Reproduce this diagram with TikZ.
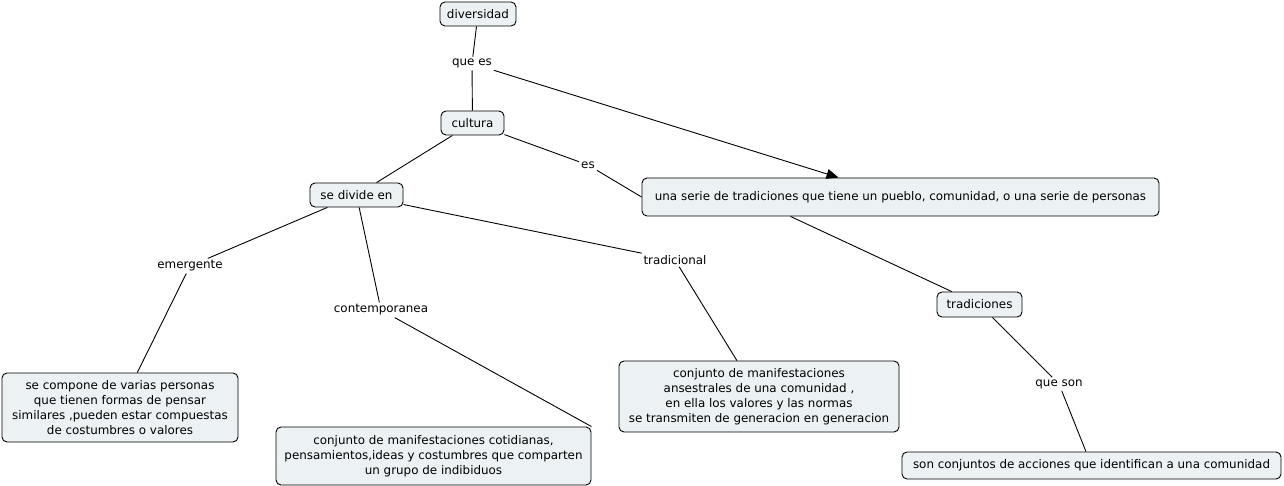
\documentclass[tikz,border=0pt]{standalone}
\usepackage{fontspec}
\setmainfont{DejaVu Sans}
\usetikzlibrary{arrows.meta}
\definecolor{boxfill}{HTML}{ECF2F4}
\tikzset{
  cbox/.style={draw=black, fill=boxfill, rounded corners=5pt, line width=0.9pt, align=center, inner sep=2pt, font=\fontsize{11.9}{15}\selectfont},
  lbl/.style={fill=white, inner sep=2pt, font=\fontsize{11.9}{15}\selectfont},
  conn/.style={draw=black, line width=0.9pt}
}
\begin{document}
\begin{tikzpicture}[x=1pt,y=-1pt]
\useasboundingbox (0,0) rectangle (1284,486);
\fill[white] (0,0) rectangle (1284,486);
% concepts
\node[cbox, minimum width=76pt, minimum height=24pt] (div) at (478,14) {diversidad};
\node[cbox, minimum width=63pt, minimum height=24pt] (cul) at (472.5,123) {cultura};
\node[cbox, minimum width=93pt, minimum height=24pt] (sdiv) at (356.5,195) {se divide en};
\node[cbox, minimum width=517pt, minimum height=38pt] (serie) at (900.5,197) {una serie de tradiciones que tiene un pueblo, comunidad, o una serie de personas};
\node[cbox, minimum width=85pt, minimum height=25pt] (trad) at (979.5,304.5) {tradiciones};
\node[cbox, minimum width=236pt, minimum height=69pt] (bemer) at (120,407.5) {se compone de varias personas\\ que tienen formas de pensar\\similares ,pueden estar compuestas\\de costumbres o valores};
\node[cbox, minimum width=315pt, minimum height=58pt] (bcont) at (433.5,456) {conjunto de manifestaciones cotidianas,\\pensamientos,ideas y costumbres que comparten\\un grupo de indibiduos};
\node[cbox, minimum width=280pt, minimum height=71pt] (btrad) at (759,396.5) {conjunto de manifestaciones\\ansestrales de una comunidad ,\\en ella los valores y las normas\\se transmiten de generacion en generacion};
\node[cbox, minimum width=379pt, minimum height=27pt] (bson) at (1091.5,465.5) {son conjuntos de acciones que identifican a una comunidad};
% linking phrases
\node[lbl] (quees) at (472,63.5) {que es};
\node[lbl] (es) at (588,165) {es};
\node[lbl] (emer) at (190,266) {emergente};
\node[lbl] (contemp) at (381,310) {contemporanea};
\node[lbl] (tradl) at (675,260) {tradicional};
\node[lbl] (queson) at (1059,384) {que son};
% connectors
\draw[conn] (div) -- (quees);
\draw[conn] (quees) -- (cul);
\draw[conn, -{Triangle[length=12pt,width=10pt]}] (quees) -- ([xshift=-62pt]serie.north);
\draw[conn] (cul) -- (es);
\draw[conn] (es) -- (serie.west);
\draw[conn] (cul) -- (sdiv);
\draw[conn] (sdiv) -- (emer);
\draw[conn] (emer) -- (bemer);
\draw[conn] (sdiv) -- (contemp);
\draw[conn] (contemp) -- (bcont.north east);
\draw[conn] (sdiv) -- (tradl);
\draw[conn] (tradl) -- (btrad);
\draw[conn] ([xshift=-110pt]serie.south) -- (trad);
\draw[conn] (trad) -- (queson);
\draw[conn] (queson) -- (bson);
\end{tikzpicture}
\end{document}
